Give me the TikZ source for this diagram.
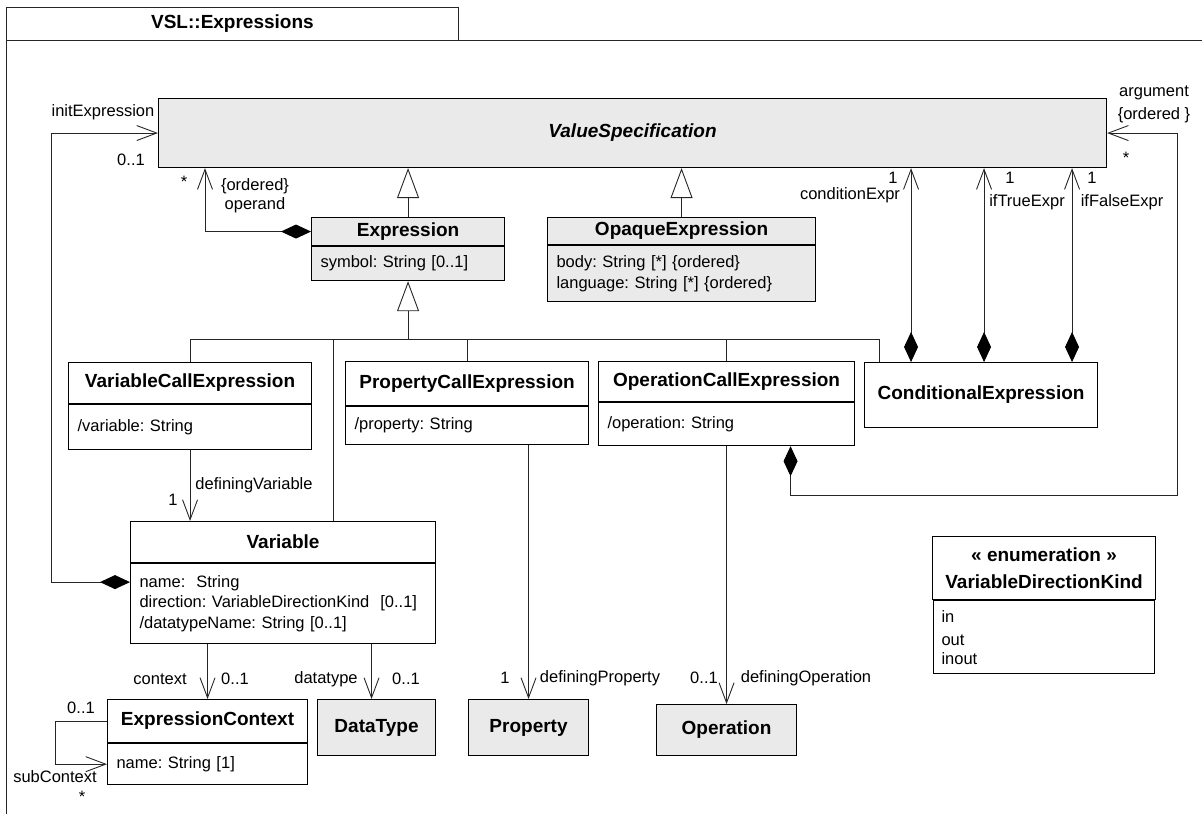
\documentclass[tikz,border=0pt]{standalone}
\usepackage{fontspec}
\setmainfont{Liberation Sans}
\usetikzlibrary{positioning,arrows.meta,calc}
\definecolor{grisuml}{HTML}{EAEAEA}
\definecolor{trazo}{HTML}{262626}
\frenchspacing

\begin{document}
\begin{tikzpicture}[
        x=1pt, y=-1pt,
        clase/.style={rectangle, draw=black, line width=1.1pt, fill=white, align=center, inner sep=0pt, anchor=north west, font=\fontsize{19}{24}\selectfont\bfseries},
        gris/.style={fill=grisuml},
        compart/.style={rectangle, draw=black, line width=1.1pt, fill=white, align=left, inner xsep=9pt, inner ysep=0pt, font=\fontsize{16.5}{20.5}\selectfont},
        rol/.style={inner sep=0pt, align=center, font=\fontsize{16.5}{20}\selectfont},
        linea/.style={draw=trazo, line width=0.9pt},
        flecha/.style={linea, -{Straight Barb[length=20pt, width=15pt]}},
        compo/.style={linea, {Diamond[length=30pt, width=14pt, color=black]}-{Straight Barb[length=20pt, width=15pt]}},
        gen/.style={linea, -{Triangle[open, length=30pt, width=22pt, fill=white]}}
    ]
        \useasboundingbox (0,0) rectangle (1202,814);
        \draw[linea] (1202,40) -- (6,40) -- (6,814);
        \node[clase, draw=trazo, line width=0.9pt, minimum width=452pt, minimum height=33pt] (pestana) at (6,7) {VSL::Expressions};

        \node[clase, gris, minimum width=948pt, minimum height=69pt, font=\fontsize{19}{24}\selectfont\bfseries\itshape] (valspec) at (158,98) {ValueSpecification};

        \node[clase, gris, minimum width=193pt, minimum height=28pt] (expr) at (311,217) {Expression};
        \node[compart, gris, text width=175pt, minimum height=34pt, below=0pt of expr] (exprb) {symbol: String [0..1]};

        \node[clase, gris, minimum width=268pt, minimum height=27pt] (opaq) at (547,217) {OpaqueExpression};
        \node[compart, gris, text width=250pt, minimum height=56pt, below=0pt of opaq] (opaqb) {body: String [*] \{ordered\}\\language: String [*] \{ordered\}};

        \node[clase, minimum width=243pt, minimum height=41pt] (vcall) at (68,362) {VariableCallExpression};
        \node[compart, text width=225pt, minimum height=45pt, below=0pt of vcall] (vcallb) {/variable: String};

        \node[clase, minimum width=243pt, minimum height=44pt] (pcall) at (345,361) {PropertyCallExpression};
        \node[compart, text width=225pt, minimum height=38pt, below=0pt of pcall] (pcallb) {/property: String};

        \node[clase, minimum width=256pt, minimum height=40pt] (ocall) at (598,361) {OperationCallExpression};
        \node[compart, text width=238pt, minimum height=43pt, below=0pt of ocall] (ocallb) {/operation: String};

        \node[clase, minimum width=233pt, minimum height=65pt] (cond) at (864,362) {ConditionalExpression};

        \node[clase, minimum width=305pt, minimum height=41pt] (vari) at (130,521) {Variable};
        \node[compart, text width=287pt, minimum height=80pt, below=0pt of vari] (varib) {name:\ \ String\\direction: VariableDirectionKind\ \ [0..1]\\/datatypeName: String [0..1]};

        \node[clase, minimum width=200pt, minimum height=43pt] (ctx) at (107,699) {ExpressionContext};
        \node[compart, text width=182pt, minimum height=41pt, below=0pt of ctx] (ctxb) {name: String [1]};

        \node[clase, gris, minimum width=118pt, minimum height=56pt] (dtype) at (317,699) {DataType};
        \node[clase, gris, minimum width=120pt, minimum height=56pt] (prop) at (468,699) {Property};
        \node[clase, gris, minimum width=140pt, minimum height=51pt] (oper) at (656,704) {Operation};

        \node[clase, minimum width=223pt, minimum height=63pt] (enum) at (932,536) {« enumeration »\\[3pt]VariableDirectionKind};
        \node[compart, text width=205pt, minimum height=73pt, inner xsep=8pt, below=0pt of enum] (enumb) {in\\[3pt]out\\[-2pt]inout};

        \draw[gen] (expr.north) -- (expr.north |- valspec.south);
        \draw[gen] (opaq.north) -- (opaq.north |- valspec.south);
        \coordinate (bus) at ($(exprb.south)+(0,58)$);
        \draw[linea] (vcall.north) |- (bus) -| ([xshift=-102pt]cond.north);
        \draw[linea] ([xshift=50pt]vari.north) -- ([xshift=50pt]vari.north |- bus);
        \draw[linea] (pcall.north) -- (pcall.north |- bus);
        \draw[linea] (ocall.north) -- (ocall.north |- bus);
        \draw[gen] (bus) -- (exprb.south);

        \draw[compo] (expr.west) -| ($(valspec.south west)+(47,0)$);
        \draw[compo] ([yshift=-19pt]vari.south west) -- ++(-79,0) |- (valspec.west);
        \foreach \dx in {-70,3,91}
            \draw[compo] ([xshift=\dx pt]cond.north) -- ([xshift=\dx pt]cond.north |- valspec.south);
        \draw[compo] ([xshift=64pt]ocallb.south) -- ++(0,49) -| ([xshift=70pt]valspec.east) -- (valspec.east);

        \draw[flecha] (vcallb.south) -- (vcallb.south |- vari.north);
        \draw[flecha] (ctx.north |- varib.south) -- (ctx.north);
        \draw[flecha] ([xshift=-5pt]dtype.north |- varib.south) -- ([xshift=-5pt]dtype.north);
        \draw[flecha] (prop.north |- pcallb.south) -- (prop.north);
        \draw[flecha] (ocallb.south) -- (ocallb.south |- oper.north);
        \draw[flecha] (ctx.west) -- ++(-52,0) |- (ctxb.west);

        \node[rol] (rinit) at (103,112) {initExpression};
        \node[rol] (minit) at (131,160) {0..1};
        \node[rol] (moper) at (184,182) {*};
        \node[rol] (ooper) at (255,186) {\{ordered\}};
        \node[rol] (roper) at (255,205) {operand};
        \node[rol] (rarg) at (1154,93) {argument};
        \node[rol] (oarg) at (1154,115) {\{ordered \}};
        \node[rol] (marg) at (1126,158) {*};
        \node[rol] (mcond) at (893,178) {1};
        \node[rol] (rcond) at (850,195) {conditionExpr};
        \node[rol] (mtrue) at (1010,178) {1};
        \node[rol] (rtrue) at (1027,202) {ifTrueExpr};
        \node[rol] (mfalse) at (1092,178) {1};
        \node[rol] (rfalse) at (1122,202) {ifFalseExpr};
        \node[rol] (mvar) at (173,500) {1};
        \node[rol] (rvar) at (254,485) {definingVariable};
        \node[rol] (rctx) at (160,679) {context};
        \node[rol] (mctx) at (235,679) {0..1};
        \node[rol] (rdt) at (326,679) {datatype};
        \node[rol] (mdt) at (406,679) {0..1};
        \node[rol] (mprop) at (505,678) {1};
        \node[rol] (rprop) at (600,678) {definingProperty};
        \node[rol] (mop) at (704,678) {0..1};
        \node[rol] (rop) at (806,678) {definingOperation};
        \node[rol] (msub) at (81,708) {0..1};
        \node[rol] (rsub) at (55,777) {subContext};
        \node[rol] (msubs) at (82,797) {*};
    \end{tikzpicture}
\end{document}
